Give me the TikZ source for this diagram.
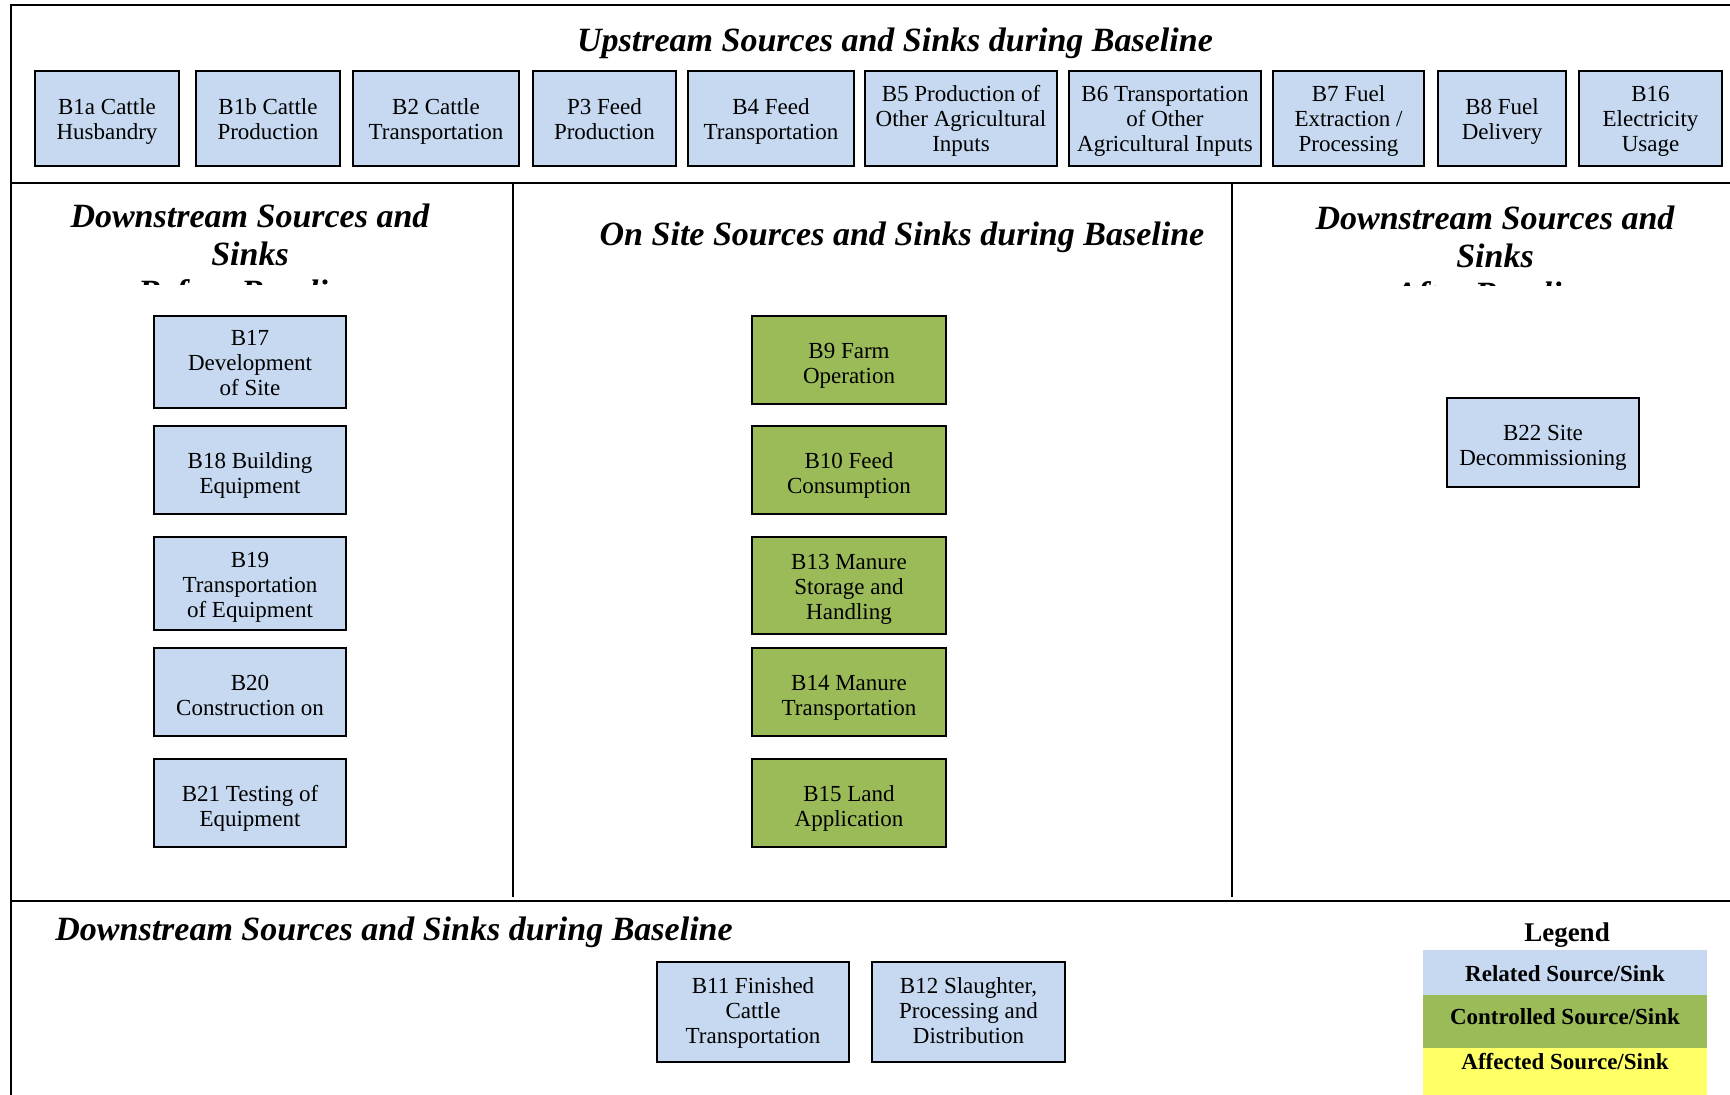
\documentclass[tikz,border=0pt]{standalone}
\usepackage{fontspec}
\setmainfont{Liberation Serif}
\definecolor{relblue}{HTML}{C6D9F1}
\definecolor{ctlgreen}{HTML}{9BBB59}
\definecolor{affyellow}{HTML}{FFFF66}
% first-line strut: its height sets where the lines sit inside a box
\def\lnsth{12pt}
\newcommand\lnstrut{\rule{0pt}{\lnsth}}
% one drawing unit = one pixel of the layout grid
\newcommand\ssbox[7]{%
  \node[#1, minimum width={(#5-#3)*0.5pt}, minimum height={(#6-#4)*0.5pt}]
    (#2) at ({(#3+#5)/2},{(#4+#6)/2}) {\lnstrut #7};}
\begin{document}
\begin{tikzpicture}[x=0.5pt,y=-0.5pt,
  frameline/.style={line width=1.1pt, draw=black},
  divider/.style={line width=0.9pt, draw=black},
  boxtext/.style={align=center, inner sep=0pt, outer sep=0pt, text depth=1pt,
    font=\fontsize{11.5}{12.5}\selectfont},
  related/.style={boxtext, draw=black, line width=0.9pt, fill=relblue},
  controlled/.style={boxtext, draw=black, line width=0.9pt, fill=ctlgreen},
  heading/.style={align=center, inner sep=0pt,
    font=\fontsize{17}{19}\bfseries\itshape\selectfont},
  legendtext/.style={inner sep=0pt, font=\fontsize{11.5}{13}\bfseries\selectfont},
]
\useasboundingbox (0,0) rectangle (1730,1095);
\fill[white] (0,0) rectangle (1730,1095);

% frame and section dividers
\draw[frameline] (1730,5) -- (11,5) -- (11,1095);
\draw[frameline] (11,183) -- (1730,183);
\draw[frameline] (11,901) -- (1730,901);
\draw[divider] (513,183) -- (513,897);
\draw[divider] (1232,183) -- (1232,897);

% section headings
\node[heading, anchor=base] (uphead) at (895,52)
  {Upstream Sources and Sinks during Baseline};
\node[heading, anchor=base] (sitehead) at (902,246)
  {On Site Sources and Sinks during Baseline};
\node[heading, anchor=base west] (downhead) at (55,940)
  {Downstream Sources and Sinks during Baseline};
\begin{scope}
  \clip (13,185) rectangle (511,285);
  \node[heading, anchor=north] (beforehead) at (250,204)
    {Downstream Sources and\\Sinks\\Before Baseline};
\end{scope}
\begin{scope}
  \clip (1234,185) rectangle (1730,286);
  \node[heading, anchor=north] (afterhead) at (1495,206)
    {Downstream Sources and\\Sinks\\After Baseline};
\end{scope}

% upstream row
\def\lnsth{9.3pt}
\ssbox{related}{b1a}{35}{71}{179}{166}{B1a Cattle\\Husbandry}
\ssbox{related}{b1b}{196}{71}{340}{166}{B1b Cattle\\Production}
\ssbox{related}{b2}{353}{71}{519}{166}{B2 Cattle\\Transportation}
\ssbox{related}{p3}{533}{71}{676}{166}{P3 Feed\\Production}
\ssbox{related}{b4}{688}{71}{854}{166}{B4 Feed\\Transportation}
\ssbox{related}{b5}{865}{71}{1057}{166}{B5 Production of\\Other Agricultural\\Inputs}
\ssbox{related}{b6}{1069}{71}{1261}{166}{B6 Transportation\\of Other\\Agricultural Inputs}
\ssbox{related}{b7}{1273}{71}{1424}{166}{B7 Fuel\\Extraction /\\Processing}
\ssbox{related}{b8}{1438}{71}{1566}{166}{B8 Fuel\\Delivery}
\ssbox{related}{b16}{1579}{71}{1722}{166}{B16\\Electricity\\Usage}

% before-baseline column
\def\lnsth{10pt}
\ssbox{related}{b17}{154}{316}{346}{408}{B17\\Development\\of Site}
\ssbox{related}{b19}{154}{537}{346}{630}{B19\\Transportation\\of Equipment}
\def\lnsth{12pt}
\ssbox{related}{b18}{154}{426}{346}{514}{B18 Building\\Equipment}
\ssbox{related}{b20}{154}{648}{346}{736}{B20\\Construction on}
\ssbox{related}{b21}{154}{759}{346}{847}{B21 Testing of\\Equipment}

% on-site column
\ssbox{controlled}{b9}{752}{316}{946}{404}{B9 Farm\\Operation}
\ssbox{controlled}{b10}{752}{426}{946}{514}{B10 Feed\\Consumption}
\ssbox{controlled}{b14}{752}{648}{946}{736}{B14 Manure\\Transportation}
\ssbox{controlled}{b15}{752}{759}{946}{847}{B15 Land\\Application}
\def\lnsth{9.8pt}
\ssbox{controlled}{b13}{752}{537}{946}{634}{B13 Manure\\Storage and\\Handling}

% after-baseline column
\def\lnsth{12pt}
\ssbox{related}{b22}{1447}{398}{1639}{487}{B22 Site\\Decommissioning}

% downstream row
\def\lnsth{6.5pt}
\ssbox{related}{b11}{657}{962}{849}{1062}{B11 Finished\\Cattle\\Transportation}
\ssbox{related}{b12}{872}{962}{1065}{1062}{B12 Slaughter,\\Processing and\\Distribution}

% legend
\node[inner sep=0pt, font=\fontsize{13.5}{15}\bfseries\selectfont, anchor=base]
  (legendtitle) at (1567,942) {Legend};
\fill[relblue] (1423,950) rectangle (1707,995);
\fill[ctlgreen] (1423,995) rectangle (1707,1048);
\fill[affyellow] (1423,1048) rectangle (1707,1095);
\node[legendtext, anchor=base] (legrel) at (1565,981) {Related Source/Sink};
\node[legendtext, anchor=base] (legctl) at (1565,1024) {Controlled Source/Sink};
\node[legendtext, anchor=base] (legaff) at (1565,1069) {Affected Source/Sink};
\end{tikzpicture}
\end{document}
